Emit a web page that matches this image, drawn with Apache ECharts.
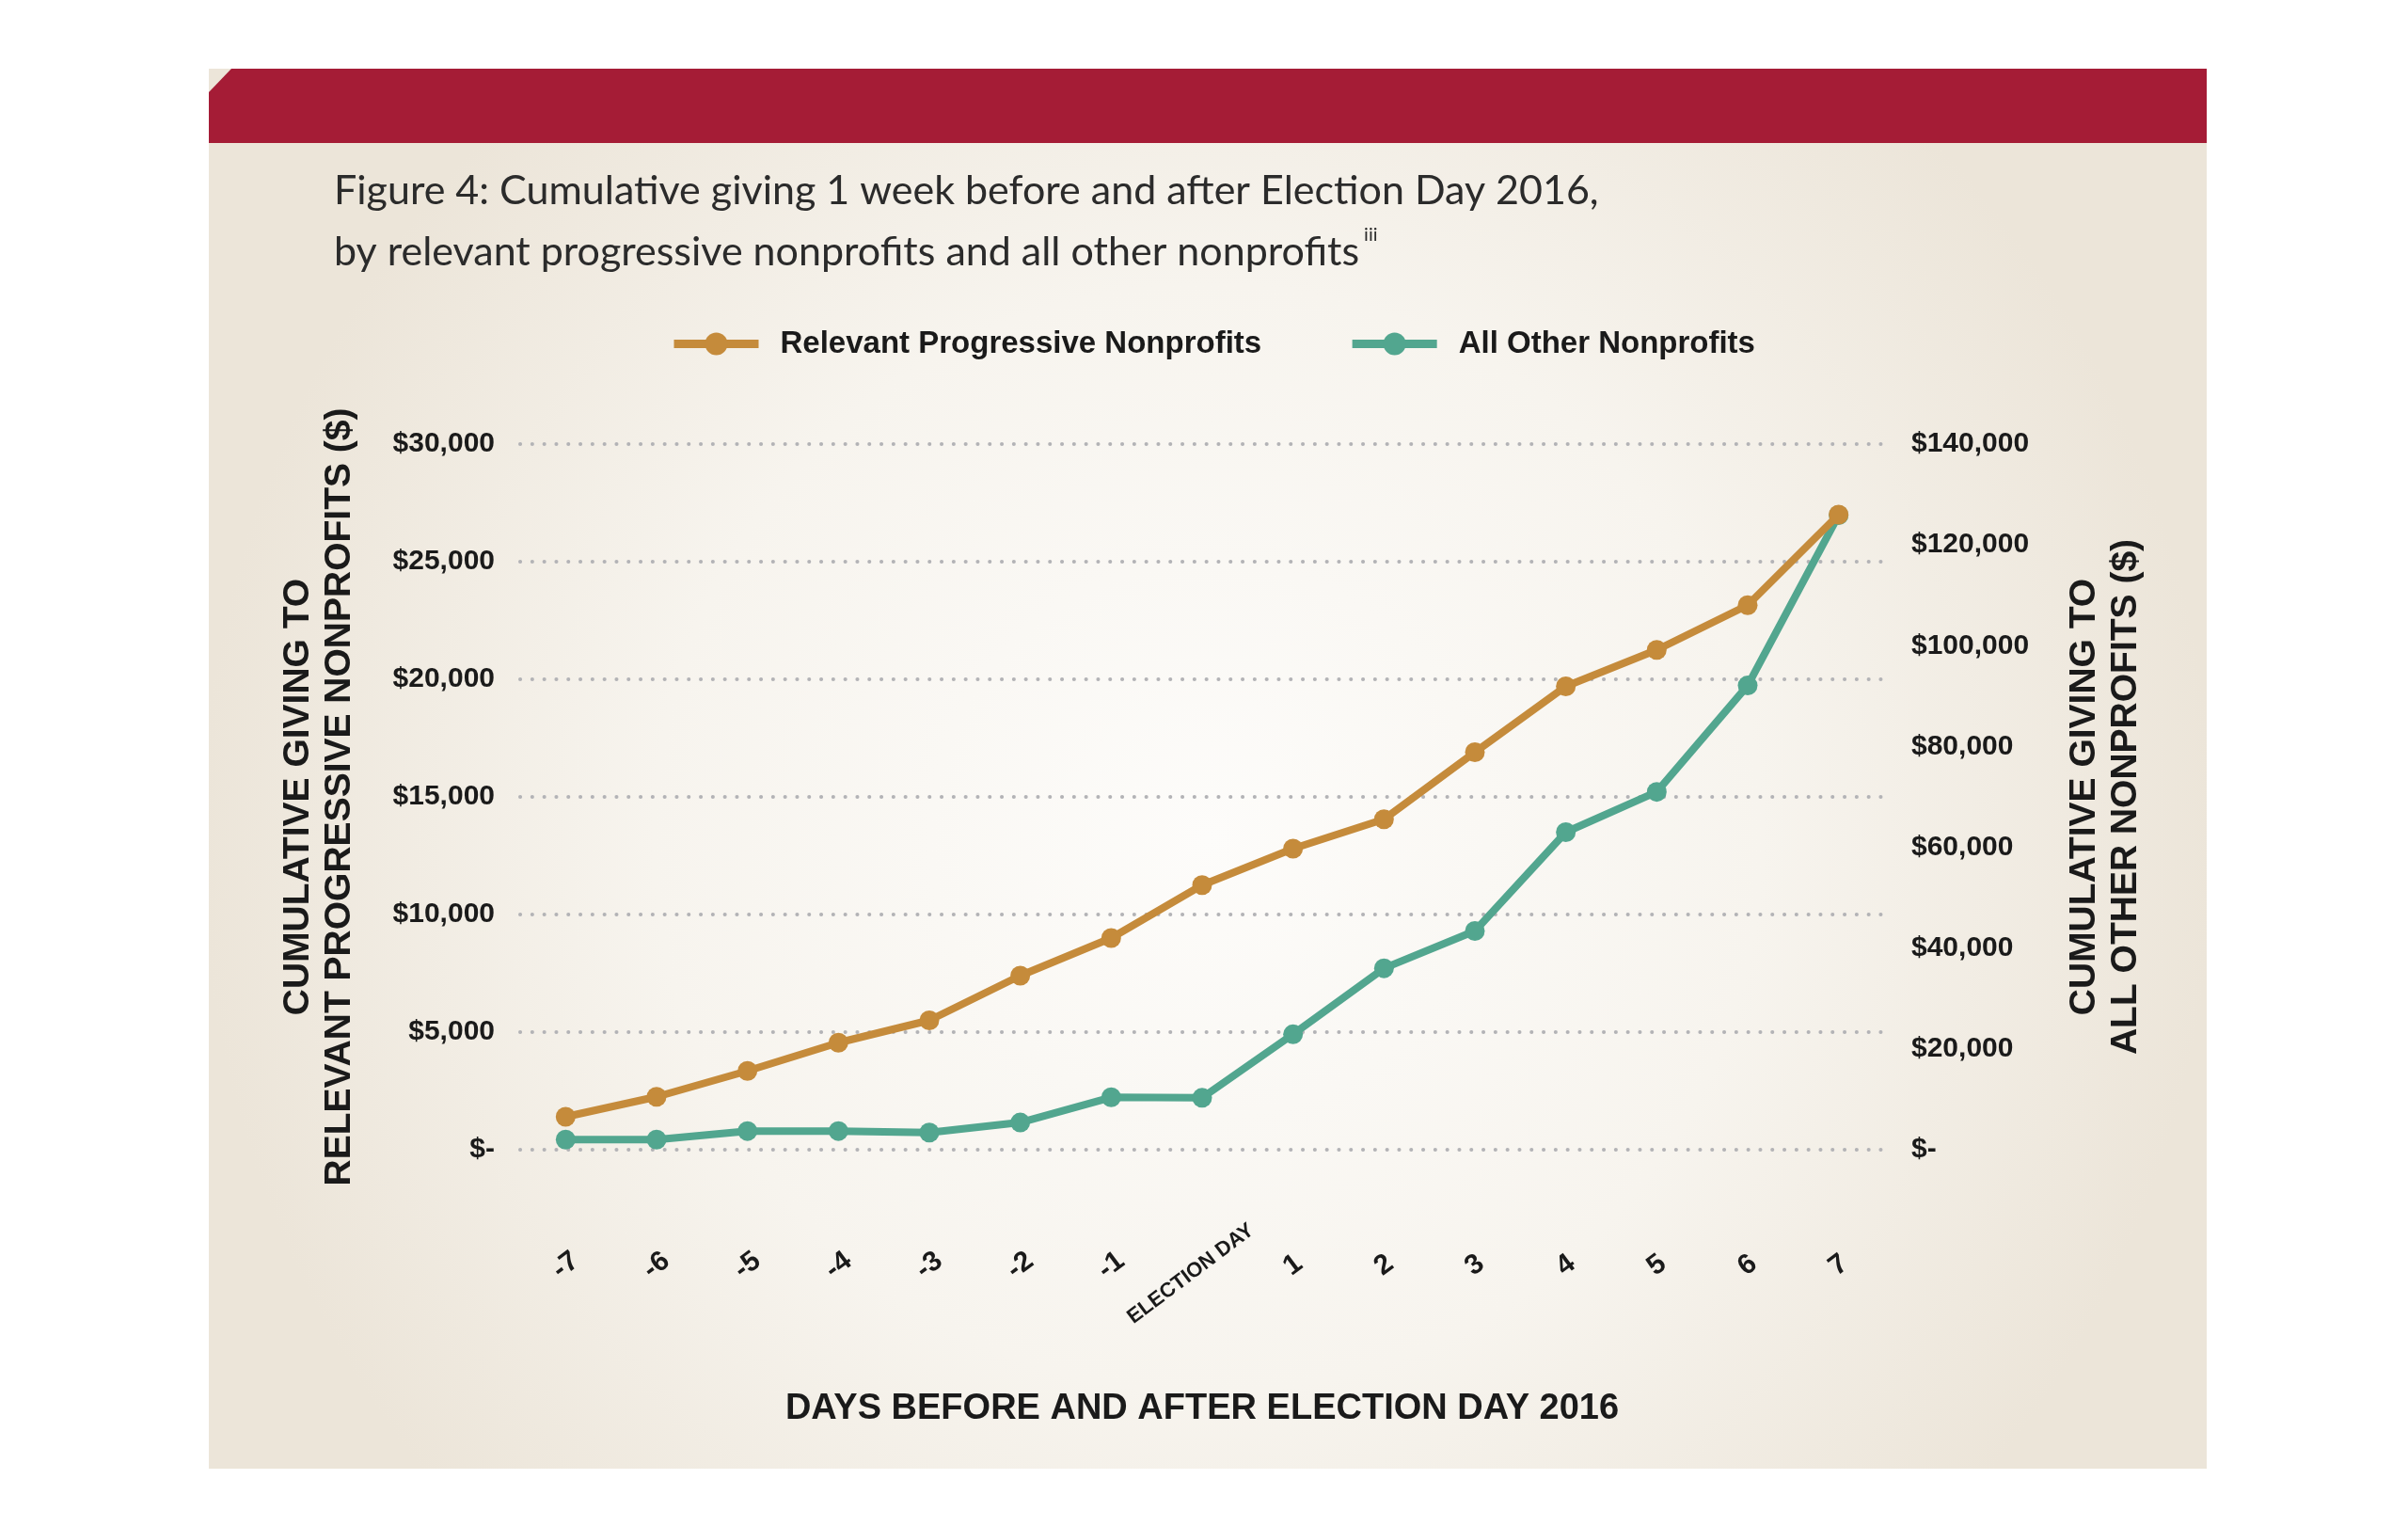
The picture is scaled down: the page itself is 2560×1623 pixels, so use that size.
<!DOCTYPE html>
<html>
<head>
<meta charset="utf-8">
<script src="https://cdn.jsdelivr.net/npm/echarts@6/dist/echarts.min.js"></script>
<style>
html,body{margin:0;padding:0;background:#ffffff;}
#chart{width:2560px;height:1623px;}
</style>
</head>
<body>
<div id="chart"></div>
<script>
// ---- data ----
const categories = ['-7','-6','-5','-4','-3','-2','-1','ELECTION DAY','1','2','3','4','5','6','7'];
const progressive = [1400, 2250, 3350, 4550, 5500, 7400, 9000, 11250, 12800, 14050, 16900, 19700, 21250, 23150, 27000];
const allOther = [2000, 2000, 3700, 3700, 3400, 5400, 10400, 10300, 22900, 36000, 43400, 63000, 71000, 92100, 125900];
const leftTicks = [0, 5000, 10000, 15000, 20000, 25000, 30000];
const rightTicks = [0, 20000, 40000, 60000, 80000, 100000, 120000, 140000];
const seriesNames = ['Relevant Progressive Nonprofits', 'All Other Nonprofits'];
const titleLine1 = 'Figure 4: Cumulative giving 1 week before and after Election Day 2016,';
const titleLine2 = 'by relevant progressive nonprofits and all other nonprofits';
const titleSup = 'iii';
const leftAxisName = 'CUMULATIVE GIVING TO\nRELEVANT PROGRESSIVE NONPROFITS ($)';
const rightAxisName = 'CUMULATIVE GIVING TO\nALL OTHER NONPROFITS ($)';
const xAxisName = 'DAYS BEFORE AND AFTER ELECTION DAY 2016';

const ORANGE = '#C58B3B';
const GREEN = '#52A68F';
const BOLD = "'Liberation Sans', Arial, sans-serif";

function money(v){ return v === 0 ? '$-' : '$' + v.toLocaleString('en-US'); }

const chart = echarts.init(document.getElementById('chart'), null, {renderer:'canvas'});

const xData = categories.map(c => c === 'ELECTION DAY'
  ? {value: c, textStyle: {fontSize: 22, align: 'center', verticalAlign: 'middle', padding: [24, 30, 0, 0]}}
  : c);

const option = {
  backgroundColor: '#ffffff',
  animation: false,
  graphic: [
    {
      type: 'rect', z: -10,
      shape: {x: 222, y: 73, width: 2124, height: 1488},
      style: {
        fill: {
          type: 'radial', x: 0.5, y: 0.55, r: 0.72,
          colorStops: [
            {offset: 0, color: '#FDFCFA'},
            {offset: 0.55, color: '#F7F4EE'},
            {offset: 1, color: '#ECE5D9'}
          ]
        }
      }
    },
    {
      type: 'polygon', z: -9,
      shape: {points: [[246,73],[2346,73],[2346,152],[222,152],[222,98]]},
      style: {fill: '#A51C36'}
    }
  ],
  title: {
    text: titleLine1 + '\n' + titleLine2 + '{sup|' + titleSup + '}',
    left: 350, top: 166,
    textStyle: {
      fontFamily: 'Lato, sans-serif', fontWeight: 'normal', fontSize: 43, lineHeight: 65, color: '#2b2b2b',
      rich: {
        sup: {fontFamily: 'Lato, sans-serif', fontWeight: 'normal', fontSize: 20, lineHeight: 30,
              verticalAlign: 'top', padding: [4, 0, 0, 5], color: '#2b2b2b'}
      }
    }
  },
  legend: {
    data: seriesNames,
    left: 707, top: 344,
    itemWidth: 90, itemHeight: 30, itemGap: 92,
    lineStyle: {width: 9},
    textStyle: {fontFamily: BOLD, fontWeight: 'bold', fontSize: 33, color: '#1a1a1a', padding: [0, 0, 0, 18]}
  },
  grid: {left: 553, right: 557, top: 472, bottom: 401, containLabel: false, outerBoundsMode: 'none'},
  xAxis: {
    type: 'category',
    data: xData,
    boundaryGap: true,
    axisLine: {show: false},
    axisTick: {show: false},
    axisLabel: {
      interval: 0, rotate: 37, align: 'center', verticalAlign: 'middle', margin: 123,
      fontFamily: BOLD, fontWeight: 'bold', fontSize: 30, color: '#1a1a1a'
    },
    name: xAxisName,
    nameLocation: 'middle', nameGap: 257,
    nameTextStyle: {fontFamily: BOLD, fontWeight: 'bold', fontSize: 38, color: '#1a1a1a'}
  },
  yAxis: [
    {
      type: 'value', min: leftTicks[0], max: leftTicks[leftTicks.length-1], interval: leftTicks[1]-leftTicks[0],
      position: 'left',
      axisLine: {show: false}, axisTick: {show: false},
      axisLabel: {formatter: money, margin: 27, fontFamily: BOLD, fontWeight: 'bold', fontSize: 30, color: '#1a1a1a'},
      splitLine: {show: true, lineStyle: {color: '#B3B3B6', width: 4, type: [0.1, 12.7], cap: 'round'}},
      name: leftAxisName, nameLocation: 'middle', nameGap: 170, nameRotate: 90,
      nameTextStyle: {fontFamily: BOLD, fontWeight: 'bold', fontSize: 39, lineHeight: 44, color: '#1a1a1a', align: 'center'}
    },
    {
      type: 'value', min: rightTicks[0], max: rightTicks[rightTicks.length-1], interval: rightTicks[1]-rightTicks[0],
      position: 'right',
      axisLine: {show: false}, axisTick: {show: false},
      axisLabel: {formatter: money, margin: 29, fontFamily: BOLD, fontWeight: 'bold', fontSize: 30, color: '#1a1a1a'},
      splitLine: {show: false},
      name: rightAxisName, nameLocation: 'middle', nameGap: 191, nameRotate: 90,
      nameTextStyle: {fontFamily: BOLD, fontWeight: 'bold', fontSize: 39, lineHeight: 44, color: '#1a1a1a', align: 'center'}
    }
  ],
  series: [
    {
      name: seriesNames[1], type: 'line', yAxisIndex: 1, data: allOther,
      symbol: 'circle', symbolSize: 21, showAllSymbol: true,
      lineStyle: {color: GREEN, width: 8}, itemStyle: {color: GREEN}, z: 2
    },
    {
      name: seriesNames[0], type: 'line', yAxisIndex: 0, data: progressive,
      symbol: 'circle', symbolSize: 21, showAllSymbol: true,
      lineStyle: {color: ORANGE, width: 8}, itemStyle: {color: ORANGE}, z: 3
    }
  ]
};
chart.setOption(option);
</script>
</body>
</html>
